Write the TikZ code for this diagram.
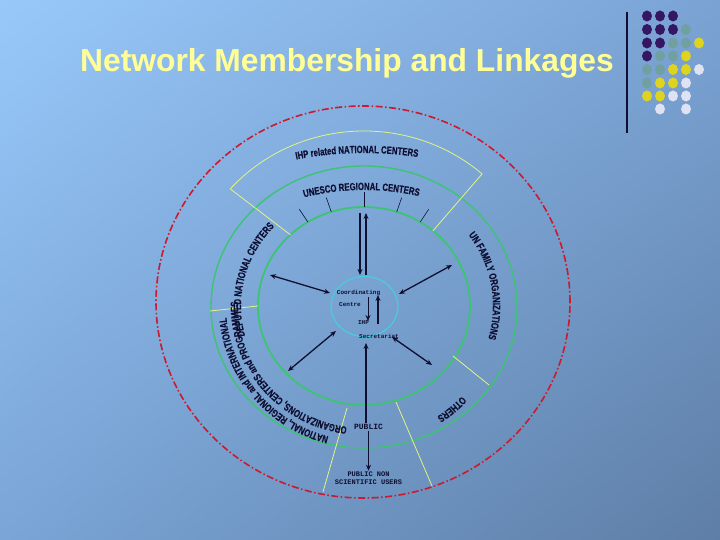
\documentclass[tikz,border=0pt]{standalone}
\usepackage{fontspec}
\setmainfont{Liberation Sans}
\newfontfamily\arcfont[FakeStretch=0.74, FakeBold=0.4]{Liberation Sans Bold}
\newfontfamily\lblfont{Liberation Mono}
\usetikzlibrary{arrows.meta,decorations.text,calc,shadings}
\definecolor{bgTL}{RGB}{152,200,250}
\definecolor{bgTR}{RGB}{122,163,212}
\definecolor{bgBL}{RGB}{122,165,214}
\definecolor{bgBR}{RGB}{94,126,166}
\definecolor{navy}{RGB}{15,15,50}
\definecolor{titley}{RGB}{255,255,150}
\definecolor{ringgreen}{RGB}{60,196,115}
\definecolor{hubcyan}{RGB}{70,205,225}
\definecolor{sectory}{RGB}{225,245,130}
\definecolor{redline}{RGB}{205,25,45}
\definecolor{dotP}{RGB}{52,22,98}
\definecolor{dotG}{RGB}{112,160,160}
\definecolor{dotY}{RGB}{222,212,30}
\definecolor{dotW}{RGB}{222,226,242}
\newcommand{\arcf}{\arcfont\fontsize{10.5}{11}\selectfont}
\begin{document}
\begin{tikzpicture}[x=1pt,y=1pt,
  tip/.tip={Stealth[length=6pt,width=5pt]},
  arr/.style={draw=navy, line width=1.3pt, -tip},
  darr/.style={draw=navy, line width=1.3pt, tip-tip},
  ring/.style={draw=ringgreen, line width=1.6pt},
  sector/.style={draw=sectory, line width=0.8pt},
  tick/.style={draw=navy, line width=0.6pt},
  lbl/.style={text=navy, inner sep=0.5pt, font=\lblfont\bfseries\fontsize{6}{7}\selectfont}]
\shade[upper left=bgTL, upper right=bgTR, lower left=bgBL, lower right=bgBR] (0,0) rectangle (720,540);
\useasboundingbox (0,0) rectangle (720,540);

% title and decoration
\node[anchor=base west, inner sep=0, text=titley, font=\bfseries\fontsize{31.8}{36}\selectfont] (title) at (80,468) {Network Membership and Linkages};
\coordinate (vlTop) at (627,528);
\coordinate (vlBot) at (627,407);
\draw[navy, line width=1.2pt] (vlTop) -- (vlBot);
\foreach \c/\x/\y in {dotP/647/524,dotP/660/524,dotP/673/524,
  dotP/647/510.5,dotP/660/510.5,dotP/673/510.5,dotG/686/510.5,
  dotP/647/497,dotP/660/497,dotG/673/497,dotG/686/497,dotY/699/497,
  dotP/647/484,dotG/660/484,dotG/673/484,dotY/686/484,
  dotG/647/470.5,dotG/660/470.5,dotY/673/470.5,dotY/686/470.5,dotW/699/470.5,
  dotG/647/457,dotY/660/457,dotY/673/457,dotW/686/457,
  dotY/647/444,dotY/660/444,dotW/673/444,dotW/686/444,
  dotW/660/431,dotW/686/431}
  \fill[\c] (\x,\y) ellipse[x radius=5, y radius=5.5];

% rings
\coordinate (C) at (364,234);
\draw[redline, line width=1.6pt, dash pattern=on 7pt off 2.5pt on 1.5pt off 2.5pt] (363,238) ellipse[x radius=207, y radius=196];
\draw[ring, line width=1.4pt] (364,233) ellipse[x radius=153, y radius=141];
\draw[ring, line width=1.8pt] (C) ellipse[x radius=106, y radius=99];
\draw[hubcyan, line width=1.2pt] (364.5,233.5) ellipse[x radius=33.5, y radius=30];

% sector boundaries
\draw[sector] ($(C)+(134:106 and 99)$) -- ($(C)+(138:180 and 175)$)
  arc[start angle=138, end angle=49, x radius=180, y radius=175]
  -- ($(C)+(49.4:106 and 99)$);
\coordinate (lA) at (210,229); \coordinate (lB) at (258,234);
\coordinate (rA) at (453,184); \coordinate (rB) at (489,155);
\coordinate (bA) at (347,132); \coordinate (bB) at (323,48);
\coordinate (cA) at (396,138); \coordinate (cB) at (432,54);
\draw[sector] (lA) -- (lB);
\draw[sector] (rA) -- (rB);
\draw[sector] (bA) -- (bB);
\draw[sector] (cA) -- (cB);

% ticks
\foreach \t in {58,72,90,108,122}
  \draw[tick] ($(C)+(\t:106 and 99)$) -- ($(C)+(\t:122 and 114)$);

% curved texts
\path[decorate, decoration={text along path, text align=center, text color=navy,
  text={|\arcf|IHP related NATIONAL CENTERS}}]
  ($(C)+(132:235 and 153)$) arc[start angle=132, end angle=52, x radius=235, y radius=153];
\path[decorate, decoration={text along path, text align=center, text color=navy,
  text={|\arcf|UNESCO REGIONAL CENTERS}}]
  ($(C)+(131:170 and 116)$) arc[start angle=131, end angle=51, x radius=170, y radius=116];
\path[decorate, decoration={text along path, text align=center, text color=navy,
  text={|\arcf|DEPUTED NATIONAL CENTERS}}]
  ($(C)+(208:123 and 116)$) arc[start angle=208, end angle=124, x radius=123, y radius=116];
\path[decorate, decoration={text along path, text align=center, text color=navy,
  text={|\arcf|UN FAMILY ORGANIZATIONS}}]
  ($(C)+(50:129 and 121)$) arc[start angle=50, end angle=-30, x radius=129, y radius=121];
\path[decorate, decoration={text along path, text align=center, text color=navy,
  text={|\arcf|OTHERS}}]
  ($(C)+(-30:134 and 132)$) arc[start angle=-30, end angle=-70, x radius=134, y radius=132];
\path[decorate, decoration={text along path, text align=center, text color=navy,
  text={|\arcf|NATIONAL, REGIONAL and INTERNATIONAL}}]
  ($(C)+(262:138 and 135)$) arc[start angle=262, end angle=178, x radius=138, y radius=135];
\path[decorate, decoration={text along path, text align=center, text color=navy,
  text={|\arcf|ORGANIZATIONS, CENTERS and PROGRAMMES}}]
  ($(C)+(270:126 and 122)$) arc[start angle=270, end angle=170, x radius=126, y radius=122];

% hub labels
\node[lbl] (coord) at (358.5,247) {Coordinating};
\node[lbl] (centre) at (350,235.5) {Centre};
\node[lbl] (ihp) at (363.5,217) {IHP};
\node[lbl] (sec) at (379,203.5) {Secretariat};
\node[text=navy, inner sep=1pt, font=\lblfont\bfseries\fontsize{8}{9}\selectfont] (public) at (368.5,113) {PUBLIC};
\node[text=navy, inner sep=1pt, align=center, font=\lblfont\bfseries\fontsize{7}{7.5}\selectfont] (pns) at (368.5,62) {PUBLIC NON\\SCIENTIFIC USERS};

% arrows
\coordinate (tA) at (360,327); \coordinate (tB) at (360,265);
\coordinate (uA) at (366,265); \coordinate (uB) at (366,327);
\draw[arr] (tA) -- (tB);
\draw[arr] (uA) -- (uB);
\coordinate (iA) at (368,243); \coordinate (iB) at (368,219);
\coordinate (jA) at (378,216); \coordinate (jB) at (378,245);
\draw[arr, line width=0.9pt] (iA) -- (iB);
\draw[arr] (jA) -- (jB);
\coordinate (ulO) at (270,265); \coordinate (ulI) at (330,247);
\coordinate (urO) at (452,275); \coordinate (urI) at (399,246);
\coordinate (llO) at (288,169); \coordinate (llI) at (336,209);
\coordinate (lrO) at (432,175); \coordinate (lrI) at (392,203);
\draw[darr] (ulO) -- (ulI);
\draw[darr] (urO) -- (urI);
\draw[darr] (llO) -- (llI);
\draw[darr] (lrO) -- (lrI);
\coordinate (pubTop) at (366,197);
\draw[arr] (public.north -| pubTop) -- (pubTop);
\draw[arr, line width=0.9pt] (public.south) -- (pns.north);
\end{tikzpicture}
\end{document}
